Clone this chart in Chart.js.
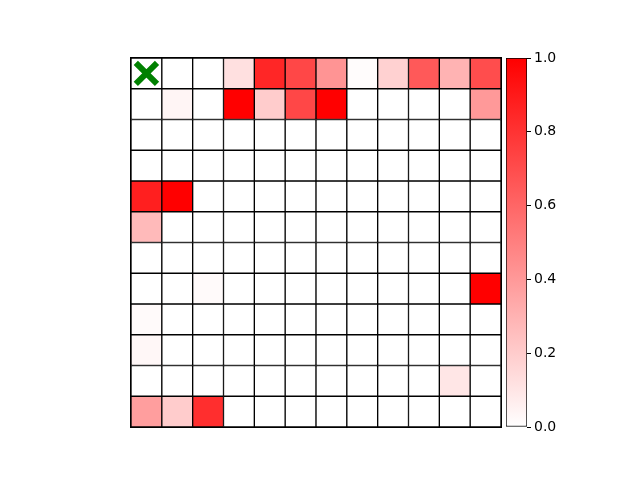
<!DOCTYPE html>
<html>
<head>
<meta charset="utf-8">
<script src="https://cdn.jsdelivr.net/npm/chart.js@4/dist/chart.umd.min.js"></script>
<style>
  html, body { margin: 0; padding: 0; background: #fff; }
  #wrap { position: relative; width: 640px; height: 480px; }
  canvas { position: absolute; left: 0; top: 0; }
</style>
</head>
<body>
<div id="wrap">
  <canvas id="heat" width="640" height="480"></canvas>
  <canvas id="cbar" width="640" height="480"></canvas>
</div>
<script>
// ---- data ----
const columns = ['0','1','2','3','4','5','6','7','8','9','10','11'];
const row0  = [0.00, 0.00, 0.00, 0.12, 0.85, 0.72, 0.42, 0.01, 0.18, 0.65, 0.30, 0.70];
const row1  = [0.00, 0.04, 0.00, 1.00, 0.20, 0.72, 1.00, 0.00, 0.00, 0.00, 0.00, 0.40];
const row2  = [0.00, 0.00, 0.00, 0.00, 0.00, 0.00, 0.00, 0.00, 0.00, 0.00, 0.00, 0.00];
const row3  = [0.00, 0.00, 0.00, 0.00, 0.00, 0.00, 0.00, 0.00, 0.00, 0.00, 0.00, 0.00];
const row4  = [0.88, 1.00, 0.00, 0.00, 0.00, 0.00, 0.00, 0.00, 0.00, 0.00, 0.00, 0.00];
const row5  = [0.27, 0.00, 0.00, 0.00, 0.00, 0.00, 0.00, 0.00, 0.00, 0.00, 0.00, 0.00];
const row6  = [0.00, 0.00, 0.00, 0.00, 0.00, 0.00, 0.00, 0.00, 0.00, 0.00, 0.00, 0.00];
const row7  = [0.00, 0.00, 0.02, 0.00, 0.00, 0.00, 0.00, 0.00, 0.00, 0.00, 0.00, 1.00];
const row8  = [0.02, 0.00, 0.00, 0.00, 0.00, 0.00, 0.00, 0.00, 0.00, 0.00, 0.00, 0.00];
const row9  = [0.03, 0.00, 0.00, 0.00, 0.00, 0.00, 0.00, 0.00, 0.00, 0.00, 0.00, 0.00];
const row10 = [0.00, 0.00, 0.00, 0.00, 0.00, 0.00, 0.00, 0.00, 0.00, 0.00, 0.10, 0.00];
const row11 = [0.38, 0.20, 0.82, 0.00, 0.00, 0.00, 0.00, 0.00, 0.00, 0.00, 0.00, 0.00];
const markerRow = 0;
const markerCol = 0;
const colorbarTicks = [0, 0.2, 0.4, 0.6, 0.8, 1.0];

const rows = [row0,row1,row2,row3,row4,row5,row6,row7,row8,row9,row10,row11];

function cmap(v) {
  const c = Math.round(255 * (1 - Math.max(0, Math.min(1, v))));
  return `rgb(255,${c},${c})`;
}

const datasets = rows.map((vals, r) => ({
  type: 'bar',
  data: vals.map(() => [r, r + 1]),
  backgroundColor: vals.map(cmap),
  borderColor: '#000',
  borderWidth: 1,
  borderSkipped: false,
  grouped: false,
  barPercentage: 1,
  categoryPercentage: 1,
  order: 2
}));

datasets.push({
  type: 'line',
  data: columns.map((c, i) => i === markerCol ? markerRow + 0.5 : null),
  showLine: false,
  pointStyle: 'crossRot',
  pointRadius: 15,
  pointBorderWidth: 6,
  borderColor: '#008000',
  pointBorderColor: '#008000',
  pointBackgroundColor: '#008000',
  order: 0
});

const framePlugin = {
  id: 'frame',
  afterDatasetsDraw(chart) {
    const a = chart.chartArea, ctx = chart.ctx;
    ctx.save();
    ctx.strokeStyle = '#000';
    ctx.lineWidth = 1;
    ctx.strokeRect(a.left - 0.5, a.top - 0.5, a.right - a.left + 1, a.bottom - a.top + 1);
    ctx.restore();
  }
};

new Chart(document.getElementById('heat'), {
  data: { labels: columns, datasets },
  options: {
    responsive: false,
    animation: false,
    layout: { padding: { left: 131, top: 58, right: 139, bottom: 53 } },
    plugins: { legend: { display: false }, tooltip: { enabled: false } },
    scales: {
      x: { type: 'category', offset: true, display: false },
      y: { type: 'linear', min: 0, max: 12, reverse: true, display: false }
    }
  },
  plugins: [framePlugin]
});

// ---- colorbar ----
new Chart(document.getElementById('cbar'), {
  type: 'bar',
  data: {
    labels: ['cb'],
    datasets: [{
      data: [[0, 1]],
      backgroundColor(ctx) {
        const ch = ctx.chart, a = ch.chartArea;
        if (!a) return '#f00';
        const g = ch.ctx.createLinearGradient(0, a.bottom, 0, a.top);
        g.addColorStop(0, cmap(0));
        g.addColorStop(1, cmap(1));
        return g;
      },
      borderColor: '#000',
      borderWidth: 1,
      borderSkipped: false,
      barPercentage: 1,
      categoryPercentage: 1
    }]
  },
  options: {
    responsive: false,
    animation: false,
    layout: { padding: { left: 506, top: 58, right: 0, bottom: 53 } },
    plugins: { legend: { display: false }, tooltip: { enabled: false } },
    scales: {
      x: { display: false },
      y: {
        position: 'right',
        min: 0, max: 1,
        afterBuildTicks(scale) { scale.ticks = colorbarTicks.map(v => ({ value: v })); },
        afterFit(scale) { scale.width = 113; },
        grid: { display: true, drawOnChartArea: false, drawTicks: true, tickLength: 4, color: '#000', lineWidth: 1 },
        border: { display: false },
        ticks: {
          color: '#000',
          padding: 3,
          font: { family: 'DejaVu Sans', size: 14 },
          callback: v => Number(v).toFixed(1)
        }
      }
    }
  }
});
</script>
</body>
</html>
